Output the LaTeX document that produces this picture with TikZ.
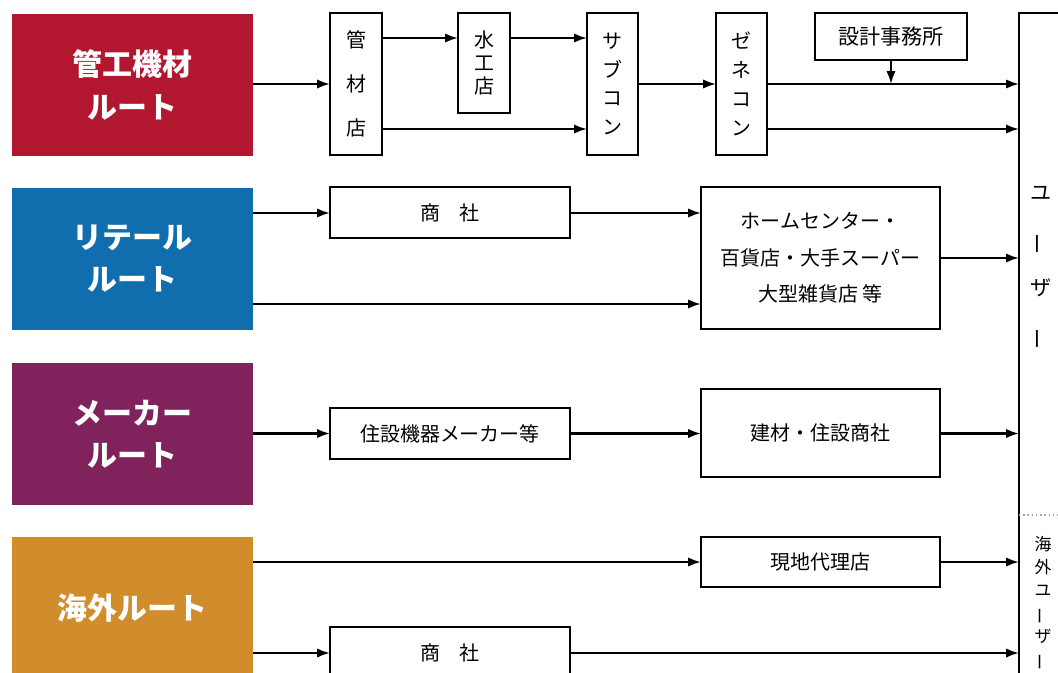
\documentclass[tikz,border=0pt]{standalone}
\usepackage{fontspec}
\setmainfont{Noto Sans CJK JP}
\usetikzlibrary{arrows.meta}

\newlength{\pxu}
\setlength{\pxu}{0.025cm}
\definecolor{kankored}{HTML}{B3172F}
\definecolor{retailblue}{HTML}{106EAE}
\definecolor{makerpurple}{HTML}{80235C}
\definecolor{kaigaiorange}{HTML}{D18C2B}
\newcommand{\tatebar}{\rotatebox[origin=c]{90}{ー}}

\begin{document}
\begin{tikzpicture}[x=0.025cm, y=-0.025cm,
        routebox/.style={fill=#1, text=white, align=center,
            font=\bfseries\fontsize{21.3}{30}\selectfont,
            minimum width=241\pxu, minimum height=142\pxu,
            inner sep=0pt, outer sep=0pt},
        shopbox/.style={draw, line width=1.5pt, fill=white, align=center,
            font=\fontsize{14.2}{26}\selectfont,
            inner sep=0pt, outer sep=0pt},
        arr/.style={line width=1.5pt, -{Latex[length=3.2mm,width=2.3mm]}}]

        \useasboundingbox (0,0) rectangle (1058,672);
        \clip (0,0) rectangle (1058,672);

        % Row heights
        \coordinate (ya) at (0,38);
        \coordinate (yb) at (0,84);
        \coordinate (yc) at (0,129);
        \coordinate (yd) at (0,213);
        \coordinate (ye) at (0,304);
        \coordinate (yf) at (0,562);
        \coordinate (yg) at (0,653);

        % Route boxes
        \node[routebox=kankored] (kanko) at (132.5,85) {管工機材\\ルート};
        \node[routebox=retailblue] (retail) at (132.5,259) {リテール\\ルート};
        \node[routebox=makerpurple] (maker) at (132.5,434) {メーカー\\ルート};
        \node[routebox=kaigaiorange] (kaigai) at (132.5,608) {海外ルート};

        % User box
        \node[shopbox, anchor=north west, minimum width=100\pxu,
            minimum height=720\pxu] (user) at (1019,13) {};
        \node[align=center, inner sep=0pt, font=\fontsize{15}{33.9}\selectfont]
            (usertext) at (1041,268) {ユ\\\tatebar\\ザ\\\tatebar};
        \draw [gray!70, dotted, line width=1pt] (user.west |- 0,515) -- (1058,515);
        \node[align=center, inner sep=0pt, font=\fontsize{12}{16.4}\selectfont]
            (kaigaitext) at (1043,603) {海\\外\\ユ\\\tatebar\\ザ\\\tatebar};

        % Pipe route
        \node[shopbox, minimum width=52\pxu, minimum height=142\pxu,
            font=\fontsize{14.2}{31.3}\selectfont] (kanzai) at (356,84) {管\\材\\店};
        \node[shopbox, minimum width=52\pxu, minimum height=100\pxu,
            font=\fontsize{14.2}{16.6}\selectfont] (suiko) at (484,63) {水\\工\\店};
        \node[shopbox, minimum width=51\pxu, minimum height=142\pxu,
            font=\fontsize{14.2}{20.4}\selectfont] (subcon) at (612.5,84) {サ\\ブ\\コ\\ン};
        \node[shopbox, minimum width=51\pxu, minimum height=142\pxu,
            font=\fontsize{14.2}{20.6}\selectfont] (zenecon) at (741.5,84) {ゼ\\ネ\\コ\\ン};
        \node[shopbox, minimum width=152\pxu, minimum height=47\pxu,
            font=\fontsize{15}{26}\selectfont] (sekkei) at (891,36.5) {設計事務所};

        \draw[arr] (kanko.east |- yb) -- (kanzai.west);
        \draw[arr] (kanzai.east |- ya) -- (suiko.west |- ya);
        \draw[arr] (suiko.east |- ya) -- (subcon.west |- ya);
        \draw[arr] (kanzai.east |- yc) -- (subcon.west |- yc);
        \draw[arr] (subcon.east) -- (zenecon.west);
        \draw[arr] (zenecon.east) -- (user.west |- yb);
        \draw[arr] (zenecon.east |- yc) -- (user.west |- yc);
        \draw[arr] (sekkei.south) -- (sekkei.south |- yb);

        % Retail route
        \node[shopbox, minimum width=240\pxu, minimum height=51\pxu]
            (shosha) at (450,212.5) {商　社};
        \node[shopbox, minimum width=239\pxu, minimum height=142\pxu,
            font=\fontsize{14.2}{26}\selectfont]
            (home) at (820.5,258) {ホームセンター・\\百貨店・大手スーパー\\大型雑貨店 等};

        \draw[arr] (retail.east |- yd) -- (shosha.west |- yd);
        \draw[arr] (shosha.east |- yd) -- (home.west |- yd);
        \draw[arr] (retail.east |- ye) -- (home.west |- ye);
        \draw[arr] (home.east) -- (user.west |- home.east);

        % Maker route
        \node[shopbox, minimum width=240\pxu, minimum height=51\pxu]
            (jusetsu) at (450,433.5) {住設機器メーカー等};
        \node[shopbox, minimum width=239\pxu, minimum height=88\pxu]
            (kenzai) at (820.5,433) {建材・住設商社};

        \draw[arr] (maker.east |- jusetsu.west) -- (jusetsu.west);
        \draw[arr] (jusetsu.east) -- (kenzai.west |- jusetsu.east);
        \draw[arr] (kenzai.east |- jusetsu.east) -- (user.west |- jusetsu.east);

        % Overseas route
        \node[shopbox, minimum width=239\pxu, minimum height=50\pxu]
            (genchi) at (820.5,562) {現地代理店};
        \node[shopbox, minimum width=240\pxu, minimum height=51\pxu]
            (shoshab) at (450,652.5) {商　社};

        \draw[arr] (kaigai.east |- yf) -- (genchi.west |- yf);
        \draw[arr] (genchi.east |- yf) -- (user.west |- yf);
        \draw[arr] (kaigai.east |- yg) -- (shoshab.west |- yg);
        \draw[arr] (shoshab.east |- yg) -- (user.west |- yg);
\end{tikzpicture}
\end{document}
